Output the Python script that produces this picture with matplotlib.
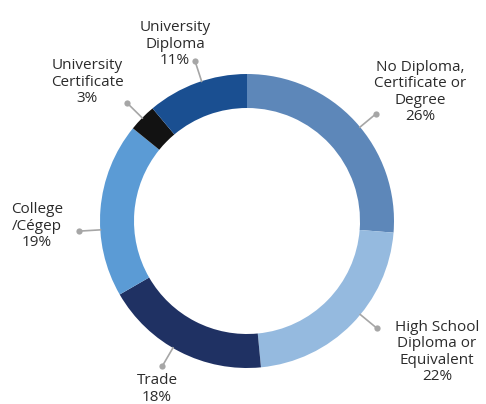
import numpy as np
import matplotlib
matplotlib.use("Agg")
import matplotlib.pyplot as plt

categories = ["No Diploma,\nCertificate or\nDegree", "High School\nDiploma or\nEquivalent",
              "Trade", "College\n/Cégep", "University\nCertificate", "University\nDiploma"]
values = [26, 22, 18, 19, 3, 11]
colors = ["#5d87b9", "#95badf", "#1f3163", "#5b9bd5", "#121212", "#1a4f91"]

# layout (pixel coordinates, y from top)
W, H = 486, 404
cx, cy = 247, 221
r_out, r_in = 147, 113
dot_r = 168
leader_shift = [3, -5, 3, -8, 0, 2]  # degrees, nudges of the leader lines
label_pos = [(420, 92), (437, 352), (157, 389), (37, 226), (87, 82), (175, 44)]

fig = plt.figure(figsize=(W / 100, H / 100), dpi=100)
ax = fig.add_axes([0, 0, 1, 1])

wedges, _ = ax.pie(values, colors=colors, startangle=90, counterclock=False,
                   radius=r_out, center=(cx, H - cy),
                   wedgeprops=dict(width=r_out - r_in, linewidth=0))
ax.set_xlim(0, W)
ax.set_ylim(0, H)
ax.set_aspect("equal")
ax.axis("off")

total = sum(values)
cum = np.cumsum([0] + values)
for i, (cat, v) in enumerate(zip(categories, values)):
    mid = (cum[i] + v / 2) / total * 2 * np.pi + np.radians(leader_shift[i])
    sx, sy = np.sin(mid), np.cos(mid)
    x0, y0 = cx + sx * (r_out - 1), (H - cy) + sy * (r_out - 1)
    x1, y1 = cx + sx * dot_r, (H - cy) + sy * dot_r
    ax.plot([x0, x1], [y0, y1], color="#a6a6a6", lw=1.2, solid_capstyle="butt")
    ax.plot([x1], [y1], "o", color="#a6a6a6", ms=4.5, mec="none")
    lx, ly = label_pos[i]
    ax.text(lx, H - ly, f"{cat}\n{v}%", ha="center", va="center",
            fontsize=11, family="Open Sans", color="#2b2b2b", linespacing=1.1)

fig.savefig("out.png", dpi=100)
